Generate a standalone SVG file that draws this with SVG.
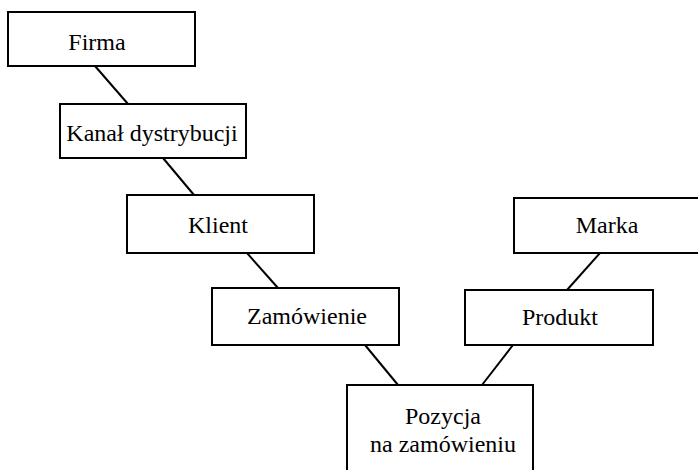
<svg xmlns="http://www.w3.org/2000/svg" width="698" height="470" viewBox="0 0 698 470">
<style>
.box{fill:#fff;stroke:#000;stroke-width:2}
.lbl{font-family:"Liberation Serif","Times New Roman",serif;font-size:24px;fill:#000;text-anchor:middle}
.conn line{stroke:#000;stroke-width:2}
</style>
<rect width="698" height="470" fill="#fff"/>
<g class="conn" id="connectors">
<line x1="95" y1="66" x2="128" y2="104"/>
<line x1="163" y1="158" x2="194" y2="195"/>
<line x1="247" y1="253" x2="278" y2="288"/>
<line x1="600" y1="253" x2="567" y2="290"/>
<line x1="365" y1="345" x2="398" y2="385"/>
<line x1="513" y1="345" x2="482" y2="385"/>
</g>
<g id="firma"><rect class="box" x="8" y="12" width="187" height="54"/><text class="lbl" x="97" y="50">Firma</text></g>
<g id="kanal"><rect class="box" x="60" y="104" width="186" height="54"/><text class="lbl" x="152" y="141">Kanał dystrybucji</text></g>
<g id="klient"><rect class="box" x="127" y="195" width="187" height="58"/><text class="lbl" x="218" y="233">Klient</text></g>
<g id="zamowienie"><rect class="box" x="212" y="288" width="187" height="57"/><text class="lbl" x="307" y="324">Zamówienie</text></g>
<g id="marka"><rect class="box" x="514" y="198" width="190" height="55"/><text class="lbl" x="607" y="233">Marka</text></g>
<g id="produkt"><rect class="box" x="465" y="290" width="188" height="55"/><text class="lbl" x="560" y="325">Produkt</text></g>
<g id="pozycja"><rect class="box" x="347" y="385" width="186" height="95"/><text class="lbl" x="443" y="424">Pozycja</text><text class="lbl" x="443" y="452">na zamówieniu</text></g>
</svg>
